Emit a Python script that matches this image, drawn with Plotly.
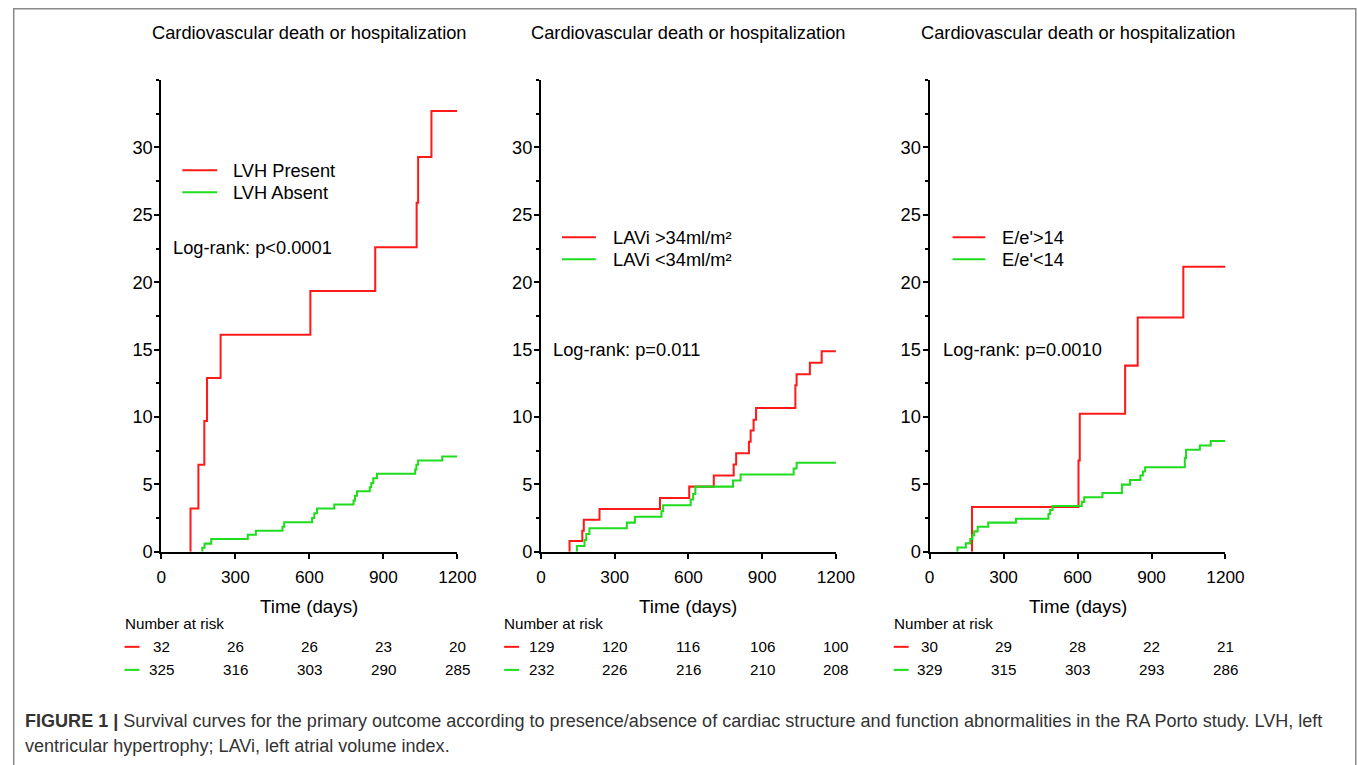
import plotly.graph_objects as go

# Target picture size in pixels; the page is photographed slightly reduced,
# so every absolute size is multiplied by K.
PIC_W, PIC_H = 1357, 765
K = 1.0142
W, H = round(PIC_W * K), round(PIC_H * K)

# ---------------- data ----------------
panel_titles = ["Cardiovascular death or hospitalization"] * 3
legend_labels = [
    ("LVH Present", "LVH Absent"),
    ("LAVi >34ml/m²", "LAVi <34ml/m²"),
    ("E/e'>14", "E/e'<14"),
]
logrank_texts = ["Log-rank: p<0.0001", "Log-rank: p=0.011", "Log-rank: p=0.0010"]

# Panel 1: LVH
lvh_present_t = [118, 150, 174, 185, 240, 604, 867, 1035, 1041, 1095]
lvh_present_v = [3.2, 6.45, 9.7, 12.9, 16.1, 19.35, 22.6, 25.9, 29.3, 32.7]
lvh_absent_t = [166, 175, 202, 350, 383, 491, 498, 611, 620, 631, 701, 779, 785, 793,
                845, 851, 859, 874, 1029, 1034, 1041, 1139]
lvh_absent_v = [0.3, 0.6, 0.94, 1.26, 1.56, 1.86, 2.18, 2.5, 2.85, 3.2, 3.5, 3.8, 4.15, 4.49,
                4.79, 5.1, 5.45, 5.78, 6.1, 6.45, 6.77, 7.07]

# Panel 2: LAVi
lavi_hi_t = [116, 168, 174, 238, 484, 603, 703, 784, 794, 846, 853, 865, 875, 1035, 1040, 1094, 1142]
lavi_hi_v = [0.79, 1.56, 2.38, 3.17, 3.99, 4.83, 5.65, 6.47, 7.31, 8.16, 9.0, 9.79, 10.66,
             12.35, 13.17, 14.03, 14.88]
lavi_lo_t = [146, 177, 184, 197, 349, 382, 490, 497, 609, 619, 628, 781, 812, 1028, 1040]
lavi_lo_v = [0.42, 0.87, 1.31, 1.74, 2.16, 2.6, 3.0, 3.45, 3.87, 4.29, 4.83, 5.28, 5.73, 6.17, 6.6]

# Panel 3: E/e'
ee_hi_t = [172, 604, 609, 793, 844, 1029]
ee_hi_v = [3.32, 6.77, 10.24, 13.81, 17.38, 21.15]
ee_lo_t = [113, 147, 165, 174, 181, 195, 238, 350, 482, 489, 499, 617, 627, 701, 780, 813,
           855, 865, 874, 1035, 1040, 1096, 1140]
ee_lo_v = [0.32, 0.62, 0.94, 1.22, 1.51, 1.86, 2.16, 2.45, 2.8, 3.1, 3.4, 3.7, 4.04, 4.36,
           4.98, 5.33, 5.65, 5.95, 6.27, 6.95, 7.56, 7.89, 8.21]

risk_times = [0, 300, 600, 900, 1200]
risk_red = [[32, 26, 26, 23, 20], [129, 120, 116, 106, 100], [30, 29, 28, 22, 21]]
risk_green = [[325, 316, 303, 290, 285], [232, 226, 216, 210, 208], [329, 315, 303, 293, 286]]

x_ticks = [0, 300, 600, 900, 1200]
y_ticks = [0, 5, 10, 15, 20, 25, 30]
x_title = "Time (days)"
caption_1 = ("<b>FIGURE 1 |</b> Survival curves for the primary outcome according to presence/absence "
             "of cardiac structure and function abnormalities in the RA Porto study. LVH, left")
caption_2 = "ventricular hypertrophy; LAVi, left atrial volume index."

series = [
    (lvh_present_t, lvh_present_v, lvh_absent_t, lvh_absent_v),
    (lavi_hi_t, lavi_hi_v, lavi_lo_t, lavi_lo_v),
    (ee_hi_t, ee_hi_v, ee_lo_t, ee_lo_v),
]

# ---------------- layout geometry (picture pixel coordinates) ----------------
RED = "#ff1a1a"
GREEN = "#1fdc1f"
FONT = "Liberation Sans, Arial, sans-serif"
PAD = 2  # annotation box padding compensation for left-anchored text

panel_px = [(157, 454), (538, 834), (928, 1225)]
top_px, bot_px = 80, 551


def px(x):
    return x / PIC_W


def py(y):
    return 1 - y / PIC_H


def s(v):
    return v * K


def steps(t, v):
    xs = [t[0]] + list(t) + [1200]
    ys = [0] + list(v) + [v[-1]]
    return xs, ys


fig = go.Figure()
annotations = []
shapes = []

legend_key_px = [(178, 213, 229, 170, 192), (559, 593, 610, 237, 259), (951, 984, 1001, 237, 259)]
logrank_px = [(169, 247), (550, 349), (941, 349)]
risk_label_px = [120, 501, 892]

LW = s(2)

for i in range(3):
    xa = "x" if i == 0 else f"x{i+1}"
    ya = "y" if i == 0 else f"y{i+1}"
    t1, v1, t2, v2 = series[i]
    gx, gy = steps(t2, v2)
    rx, ry = steps(t1, v1)
    fig.add_trace(go.Scatter(x=rx, y=ry, mode="lines", line=dict(color=RED, width=LW, shape="hv"),
                             xaxis=xa, yaxis=ya, showlegend=False, name=legend_labels[i][0]))
    fig.add_trace(go.Scatter(x=gx, y=gy, mode="lines", line=dict(color=GREEN, width=LW, shape="hv"),
                             xaxis=xa, yaxis=ya, showlegend=False, name=legend_labels[i][1]))

    x0, x1 = panel_px[i]
    axis_common = dict(showline=True, linecolor="black", linewidth=LW, ticks="outside",
                       tickcolor="black", tickwidth=LW, ticklen=round(s(5)), showgrid=False,
                       zeroline=False)
    fig.layout[f"xaxis{'' if i == 0 else i+1}"] = dict(
        domain=[px(x0), px(x1)], range=[0, 1200], tickvals=x_ticks, anchor=ya,
        ticklabelstandoff=4, tickfont=dict(family=FONT, size=s(17), color="black"), **axis_common)
    fig.layout[f"yaxis{'' if i == 0 else i+1}"] = dict(
        domain=[py(bot_px), py(top_px)], range=[0, 35], tickvals=y_ticks, anchor=xa,
        minor=dict(dtick=2.5, tick0=0, ticks="outside", ticklen=3, tickwidth=LW, tickcolor="black"),
        ticklabelstandoff=-2, tickfont=dict(family=FONT, size=s(18), color="black"), **axis_common)

    cx = (x0 + x1) / 2
    annotations.append(dict(x=px(cx), y=py(32), xref="paper", yref="paper", text=panel_titles[i],
                            showarrow=False, xanchor="center", yanchor="middle",
                            font=dict(family=FONT, size=s(18), color="black")))
    annotations.append(dict(x=px(cx), y=py(606), xref="paper", yref="paper", text=x_title,
                            showarrow=False, xanchor="center", yanchor="middle",
                            font=dict(family=FONT, size=s(18.5), color="black")))

    # legend keys
    lx0, lx1, ltx, ly1, ly2 = legend_key_px[i]
    for ly, col, lab in ((ly1, RED, legend_labels[i][0]), (ly2, GREEN, legend_labels[i][1])):
        shapes.append(dict(type="line", xref="paper", yref="paper", x0=px(lx0), x1=px(lx1),
                           y0=py(ly), y1=py(ly), line=dict(color=col, width=LW)))
        annotations.append(dict(x=px(ltx - PAD), y=py(ly), xref="paper", yref="paper", text=lab,
                                showarrow=False, xanchor="left", yanchor="middle",
                                font=dict(family=FONT, size=s(18), color="black")))
    # log-rank
    lrx, lry = logrank_px[i]
    annotations.append(dict(x=px(lrx - PAD), y=py(lry), xref="paper", yref="paper",
                            text=logrank_texts[i], showarrow=False, xanchor="left",
                            yanchor="middle", font=dict(family=FONT, size=s(18), color="black")))

    # number at risk
    rlx = risk_label_px[i]
    annotations.append(dict(x=px(rlx - PAD), y=py(623), xref="paper", yref="paper",
                            text="Number at risk", showarrow=False, xanchor="left",
                            yanchor="middle", font=dict(family=FONT, size=s(15), color="black")))
    for ry_px, col, vals in ((646, RED, risk_red[i]), (669, GREEN, risk_green[i])):
        shapes.append(dict(type="line", xref="paper", yref="paper", x0=px(rlx), x1=px(rlx + 15),
                           y0=py(ry_px), y1=py(ry_px), line=dict(color=col, width=LW)))
        for tt, n in zip(risk_times, vals):
            annotations.append(dict(x=tt, y=py(ry_px), xref=xa, yref="paper", text=str(n),
                                    showarrow=False, xanchor="center", yanchor="middle",
                                    font=dict(family=FONT, size=s(15), color="black")))

# caption
annotations.append(dict(x=px(20 - PAD), y=py(720), xref="paper", yref="paper", text=caption_1,
                        showarrow=False, xanchor="left", yanchor="middle",
                        font=dict(family=FONT, size=s(17.8), color="#333333")))
annotations.append(dict(x=px(20 - PAD), y=py(745), xref="paper", yref="paper", text=caption_2,
                        showarrow=False, xanchor="left", yanchor="middle",
                        font=dict(family=FONT, size=s(17.8), color="#333333")))

# frame
shapes.append(dict(type="rect", xref="paper", yref="paper", x0=px(8.75), x1=px(1355.75),
                   y0=py(790), y1=py(8.75), line=dict(color="#8a8a8a", width=s(1.5)),
                   fillcolor="rgba(0,0,0,0)", layer="below"))

fig.update_layout(width=W, height=H, margin=dict(l=0, r=0, t=0, b=0),
                  paper_bgcolor="white", plot_bgcolor="white",
                  annotations=annotations, shapes=shapes, showlegend=False,
                  font=dict(family=FONT))

fig.write_html(
    "out.html",
    config={"displayModeBar": False},
    post_script=("document.body.style.margin='0px';"
                 "document.body.style.overflow='hidden';"
                 "document.documentElement.style.overflow='hidden';"),
)
